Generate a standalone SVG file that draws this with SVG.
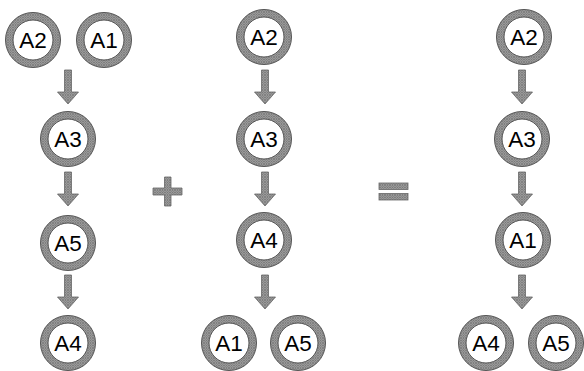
<svg xmlns="http://www.w3.org/2000/svg" width="584" height="371" viewBox="0 0 584 371">
<defs>
<pattern id="hatch" width="2.5" height="2.5" patternUnits="userSpaceOnUse">
<rect width="2.5" height="2.5" fill="#a8a8a8"/>
<path d="M0,0 L2.5,2.5 M2.5,0 L0,2.5" stroke="#686868" stroke-width="0.6"/>
</pattern>
<path id="ring" d="M-27.5,0 a27.5,27.5 0 1,0 55,0 a27.5,27.5 0 1,0 -55,0 Z M-20,0 a20,20 0 1,0 40,0 a20,20 0 1,0 -40,0 Z"/>
<path id="arr" d="M-3.5,0 H3.5 V22 H10.5 L0,34 L-10.5,22 H-3.5 Z"/>
</defs>
<style>
.ring{fill:url(#hatch);fill-rule:evenodd;stroke:#555;stroke-width:1}
.arrow{fill:url(#hatch);stroke:#666;stroke-width:0.8}
.op{fill:url(#hatch);stroke:#666;stroke-width:0.8}
.lbl{font-family:"Liberation Sans",Arial,sans-serif;font-size:22.5px;fill:#000;text-anchor:middle}
</style>
<g id="connectors">
<use href="#arr" class="arrow" x="68" y="70"/>
<use href="#arr" class="arrow" x="68" y="172"/>
<use href="#arr" class="arrow" x="68" y="275"/>
<use href="#arr" class="arrow" x="265" y="70"/>
<use href="#arr" class="arrow" x="265" y="172"/>
<use href="#arr" class="arrow" x="265" y="275"/>
<use href="#arr" class="arrow" x="522" y="70"/>
<use href="#arr" class="arrow" x="522" y="172"/>
<use href="#arr" class="arrow" x="522" y="275"/>
</g>
<g id="plus">
<path class="op" d="M164.5,177 H171 V188 H182 V195 H171 V206 H164.5 V195 H153 V188 H164.5 Z"/>
</g>
<g id="equals">
<rect class="op" x="379" y="183" width="29" height="6.5"/>
<rect class="op" x="379" y="193.5" width="29" height="6.5"/>
</g>
<g id="c1-A2" transform="translate(33,40)"><use href="#ring" class="ring"/><text class="lbl" y="8">A2</text></g>
<g id="c1-A1" transform="translate(104,40)"><use href="#ring" class="ring"/><text class="lbl" y="8">A1</text></g>
<g id="c1-A3" transform="translate(68,139)"><use href="#ring" class="ring"/><text class="lbl" y="8">A3</text></g>
<g id="c1-A5" transform="translate(68,243)"><use href="#ring" class="ring"/><text class="lbl" y="8">A5</text></g>
<g id="c1-A4" transform="translate(68,343)"><use href="#ring" class="ring"/><text class="lbl" y="8">A4</text></g>
<g id="c2-A2" transform="translate(264,37)"><use href="#ring" class="ring"/><text class="lbl" y="8">A2</text></g>
<g id="c2-A3" transform="translate(264,139)"><use href="#ring" class="ring"/><text class="lbl" y="8">A3</text></g>
<g id="c2-A4" transform="translate(264,240)"><use href="#ring" class="ring"/><text class="lbl" y="8">A4</text></g>
<g id="c2-A1" transform="translate(229,343)"><use href="#ring" class="ring"/><text class="lbl" y="8">A1</text></g>
<g id="c2-A5" transform="translate(298,343)"><use href="#ring" class="ring"/><text class="lbl" y="8">A5</text></g>
<g id="c3-A2" transform="translate(524,37)"><use href="#ring" class="ring"/><text class="lbl" y="8">A2</text></g>
<g id="c3-A3" transform="translate(522,139)"><use href="#ring" class="ring"/><text class="lbl" y="8">A3</text></g>
<g id="c3-A1" transform="translate(523,240)"><use href="#ring" class="ring"/><text class="lbl" y="8">A1</text></g>
<g id="c3-A4" transform="translate(486,343)"><use href="#ring" class="ring"/><text class="lbl" y="8">A4</text></g>
<g id="c3-A5" transform="translate(556,343)"><use href="#ring" class="ring"/><text class="lbl" y="8">A5</text></g>
</svg>
